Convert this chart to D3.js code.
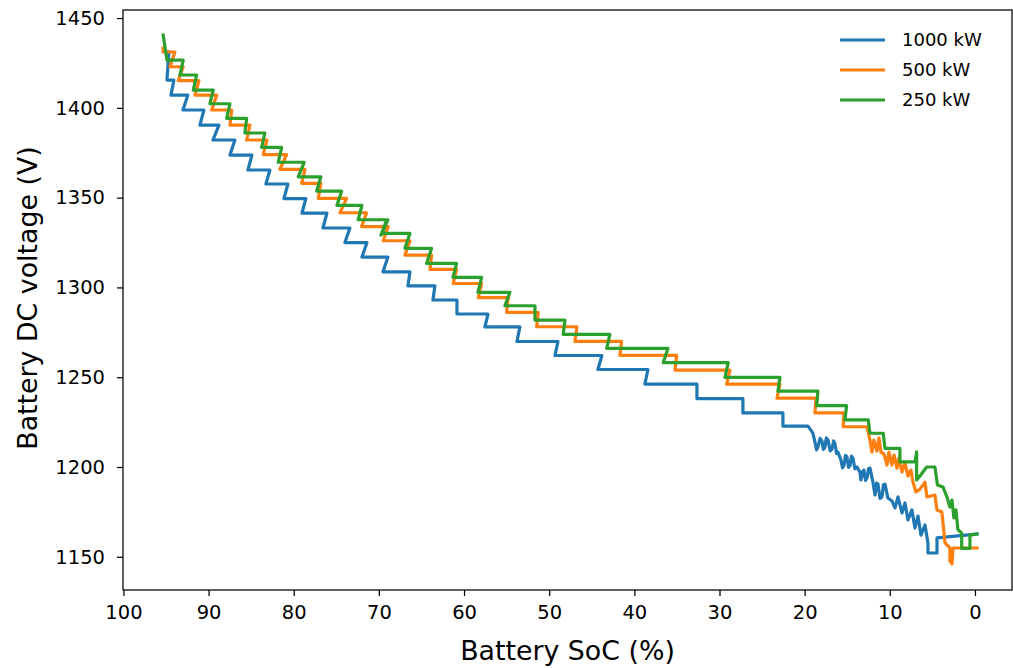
<!DOCTYPE html>
<html>
<head>
<meta charset="utf-8">
<script src="https://cdn.jsdelivr.net/npm/d3@7"></script>
<style>
  html, body { margin: 0; padding: 0; background: #fff; }
  svg { display: block; }
  text { font-family: "DejaVu Sans", sans-serif; fill: #000; }
</style>
</head>
<body>
<svg id="chart" width="1013" height="668"></svg>
<script>
// ---------------- data ----------------
const seriesNames = ["1000 kW", "500 kW", "250 kW"];
const seriesColors = ["#1f77b4", "#ff7f0e", "#2ca02c"];

const soc1000 = [94.66, 94.89, 94.07, 94.42, 92.43, 93.01, 90.55, 91.02, 88.78, 89.49, 86.91, 87.49, 84.91, 85.38, 82.80, 83.27, 80.68, 81.15, 78.57, 79.04, 76.10, 76.57, 73.40, 73.99, 71.40, 71.99, 68.94, 69.52, 66.35, 66.59, 63.42, 63.65, 60.83, 60.83, 57.19, 57.55, 53.44, 53.79, 48.97, 49.32, 43.81, 44.28, 38.40, 38.76, 32.65, 32.65, 27.25, 27.25, 22.55, 22.55, 19.61,
  19.03, 18.79, 18.60, 18.44, 18.20, 17.97, 17.80, 17.62, 17.45, 17.26, 17.00, 16.79, 16.60, 16.44, 16.25, 16.09, 15.74, 15.55, 15.38, 15.20, 15.03, 14.85, 14.68, 14.50, 14.33, 14.10, 13.86, 13.51, 13.39, 13.20, 13.04, 12.85, 12.68, 12.50, 12.33, 11.98, 11.74, 11.55, 11.39, 11.15, 10.92, 10.75, 10.57, 10.22, 9.75, 9.39, 9.04, 8.57, 8.22, 7.87, 7.40, 7.05, 6.69, 6.34, 5.87, 5.52, 5.52, 4.46, 4.46, -0.24];
const volt1000 = [1431.1, 1415.5, 1415.5, 1407.1, 1407.1, 1398.8, 1398.8, 1390.4, 1390.4, 1382.1, 1382.1, 1373.7, 1373.7, 1365.4, 1365.4, 1357.6, 1357.6, 1349.5, 1349.5, 1341.4, 1341.4, 1333.1, 1333.1, 1325.0, 1325.0, 1316.9, 1316.9, 1308.7, 1308.7, 1300.9, 1300.9, 1293.0, 1293.0, 1285.2, 1285.2, 1278.0, 1278.0, 1269.9, 1269.9, 1262.1, 1262.1, 1254.3, 1254.3, 1246.2, 1246.2, 1238.1, 1238.1, 1230.1, 1230.1, 1222.8, 1222.8,
  1218.9, 1213.9, 1209.5, 1211.1, 1216.0, 1214.5, 1209.8, 1211.1, 1216.2, 1215.0, 1209.0, 1210.0, 1214.5, 1212.8, 1207.5, 1208.3, 1203.9, 1199.5, 1201.1, 1206.5, 1205.6, 1199.8, 1200.6, 1206.0, 1205.0, 1199.0, 1200.0, 1197.2, 1192.8, 1197.5, 1198.3, 1192.5, 1193.9, 1199.0, 1199.4, 1191.6, 1184.4, 1191.0, 1190.5, 1182.5, 1183.3, 1190.0, 1190.5, 1182.7, 1181.1, 1177.2, 1183.3, 1174.4, 1180.0, 1170.5, 1176.1, 1166.0, 1172.7, 1162.1, 1167.7, 1157.7, 1152.1, 1152.1, 1160.5, 1162.7];

const soc500 = [95.33, 95.33, 93.95, 94.54, 92.98, 93.56, 91.13, 91.60, 89.05, 89.64, 87.29, 87.49, 85.14, 85.53, 83.15, 83.58, 80.83, 81.62, 78.68, 79.07, 76.81, 77.12, 73.79, 74.57, 71.44, 72.03, 68.90, 69.49, 66.35, 66.94, 63.81, 64.00, 60.87, 61.27, 57.93, 58.33, 54.81, 55.00, 51.29, 51.47, 46.74, 46.98, 41.49, 41.69, 35.03, 35.23, 28.77, 29.16, 22.90, 23.25, 18.67, 18.79, 15.38, 15.47, 12.68,
  12.33, 12.10, 11.86, 11.51, 11.27, 11.04, 10.69, 10.33, 10.10, 9.75, 9.51, 9.16, 8.93, 8.57, 8.22, 7.87, 7.52, 7.28, 6.93, 6.46, 5.87, 5.64, 4.70, 4.46, 3.88, 3.52, 2.94, 2.94, 2.70, 2.58, -0.24];
const volt500 = [1433.3, 1431.1, 1431.1, 1422.9, 1422.9, 1415.2, 1415.2, 1407.1, 1407.1, 1398.8, 1398.8, 1390.4, 1390.4, 1382.1, 1382.1, 1374.0, 1374.0, 1365.8, 1365.8, 1358.0, 1358.0, 1349.6, 1349.6, 1341.6, 1341.6, 1333.9, 1333.9, 1326.0, 1326.0, 1318.0, 1318.0, 1310.0, 1310.0, 1302.2, 1302.2, 1294.3, 1294.3, 1286.1, 1286.1, 1278.1, 1278.1, 1270.0, 1270.0, 1262.2, 1262.2, 1254.0, 1254.0, 1246.1, 1246.1, 1238.3, 1238.3, 1230.1, 1230.1, 1222.4, 1222.4,
  1215.0, 1208.3, 1215.0, 1208.9, 1216.1, 1208.3, 1207.2, 1201.1, 1208.3, 1201.1, 1206.7, 1199.4, 1205.0, 1197.2, 1202.2, 1195.0, 1198.3, 1191.6, 1186.1, 1187.7, 1191.6, 1183.3, 1184.4, 1176.1, 1174.9, 1157.7, 1154.9, 1147.7, 1146.0, 1154.9, 1154.9];

const soc250 = [95.33, 94.89, 92.98, 93.36, 91.40, 91.80, 89.45, 89.84, 87.49, 87.88, 85.53, 85.73, 83.38, 83.77, 81.42, 81.82, 78.77, 79.47, 76.81, 77.31, 74.37, 74.93, 71.99, 72.43, 68.94, 69.76, 69.05, 69.64, 69.17, 69.68, 66.35, 66.94, 63.81, 64.39, 60.87, 61.30, 57.93, 58.37, 54.61, 55.20, 51.67, 51.67, 48.15, 48.35, 42.87, 43.25, 36.05, 36.61, 28.97, 29.36, 22.90, 23.14, 18.44, 18.59, 15.07, 15.27, 12.53, 12.33, 10.77, 10.57, 8.81, 8.81, 7.05,
  6.85, 6.85, 6.46, 5.67, 4.70, 4.40, 3.76, 3.29, 2.94, 2.70, 2.47, 2.23, 2.00, 1.56, 1.56, 0.59, 0.59, -0.24];
const volt250 = [1440.5, 1426.6, 1426.6, 1418.3, 1418.3, 1409.9, 1409.9, 1402.3, 1402.3, 1394.2, 1394.2, 1386.0, 1386.0, 1378.0, 1378.0, 1369.7, 1369.7, 1361.6, 1361.6, 1353.6, 1353.6, 1345.7, 1345.7, 1337.7, 1337.7, 1329.2, 1337.0, 1329.7, 1336.5, 1330.1, 1330.1, 1321.8, 1321.8, 1313.4, 1313.4, 1305.6, 1305.6, 1297.3, 1297.3, 1289.8, 1289.8, 1281.8, 1281.8, 1273.9, 1273.9, 1266.1, 1266.1, 1258.1, 1258.1, 1249.9, 1249.9, 1242.2, 1242.2, 1234.2, 1234.2, 1226.2, 1226.2, 1218.8, 1218.8, 1210.4, 1210.4, 1202.8, 1202.8,
  1208.4, 1192.8, 1195.0, 1200.0, 1200.0, 1190.0, 1188.9, 1183.3, 1177.7, 1181.6, 1171.6, 1176.1, 1165.0, 1163.3, 1154.7, 1154.7, 1162.1, 1162.7];

const xTicks = [100, 90, 80, 70, 60, 50, 40, 30, 20, 10, 0];
const yTicks = [1150, 1200, 1250, 1300, 1350, 1400, 1450];
const xLabel = "Battery SoC (%)";
const yLabel = "Battery DC voltage (V)";

// ---------------- layout ----------------
const svg = d3.select("#chart");
const mLeft = 123, mRight = 1012, mTop = 10, mBottom = 590;

const x = d3.scaleLinear().domain([100.05, -4.35]).range([mLeft, mRight]);
const y = d3.scaleLinear().domain([1131.5, 1454.5]).range([mBottom, mTop]);

const series = [
  { name: seriesNames[0], color: seriesColors[0], soc: soc1000, v: volt1000 },
  { name: seriesNames[1], color: seriesColors[1], soc: soc500, v: volt500 },
  { name: seriesNames[2], color: seriesColors[2], soc: soc250, v: volt250 }
];

svg.append("defs").append("clipPath").attr("id", "clip")
  .append("rect").attr("x", mLeft).attr("y", mTop).attr("width", mRight - mLeft).attr("height", mBottom - mTop);

const line = d3.line().x(d => x(d[0])).y(d => y(d[1]));

const gLines = svg.append("g").attr("clip-path", "url(#clip)");
series.forEach(s => {
  const pts = s.soc.map((v, i) => [v, s.v[i]]);
  gLines.append("path")
    .attr("d", line(pts))
    .attr("fill", "none")
    .attr("stroke", s.color)
    .attr("stroke-width", 3.2)
    .attr("stroke-linejoin", "round")
    .attr("stroke-linecap", "square");
});

// axes
const xAxis = d3.axisBottom(x).tickValues(xTicks).tickSize(6).tickPadding(9).tickFormat(d3.format("d"));
const yAxis = d3.axisLeft(y).tickValues(yTicks).tickSize(6).tickPadding(12).tickFormat(d3.format("d"));

const gx = svg.append("g").attr("transform", `translate(0,${mBottom})`).call(xAxis);
const gy = svg.append("g").attr("transform", `translate(${mLeft},0)`).call(yAxis);
[gx, gy].forEach(g => {
  g.select(".domain").remove();
  g.selectAll(".tick line").attr("stroke", "#000").attr("stroke-width", 1.25);
  g.selectAll(".tick text").attr("font-size", 19.5).attr("font-family", "DejaVu Sans").attr("fill", "#000");
});

// frame
svg.append("rect").attr("x", mLeft).attr("y", mTop).attr("width", mRight - mLeft).attr("height", mBottom - mTop)
  .attr("fill", "none").attr("stroke", "#000").attr("stroke-width", 1.25);

// labels
svg.append("text").attr("x", (mLeft + mRight) / 2).attr("y", 660).attr("text-anchor", "middle")
  .attr("font-size", 26.8).text(xLabel);
svg.append("text").attr("transform", `translate(37,${(mTop + mBottom) / 2 - 2}) rotate(-90)`)
  .attr("text-anchor", "middle").attr("font-size", 26.8).text(yLabel);

// legend
const lg = svg.append("g");
series.forEach((s, i) => {
  const cy = 40 + i * 30;
  lg.append("line").attr("x1", 840).attr("x2", 885).attr("y1", cy).attr("y2", cy)
    .attr("stroke", s.color).attr("stroke-width", 3.2);
  lg.append("text").attr("x", 902).attr("y", cy).attr("dy", "0.36em").attr("font-size", 18).text(s.name);
});
</script>
</body>
</html>
